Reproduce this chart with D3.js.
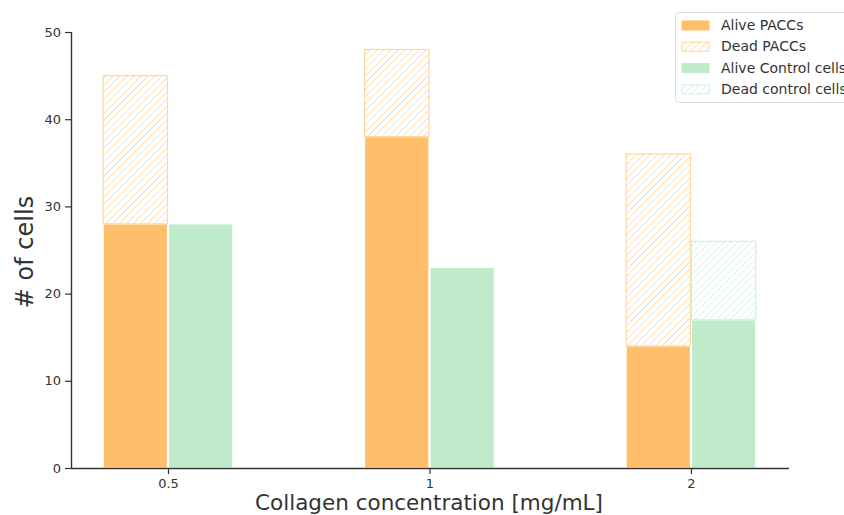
<!DOCTYPE html>
<html>
<head>
<meta charset="utf-8">
<script src="https://cdn.jsdelivr.net/npm/d3@7"></script>
<style>
body { margin: 0; background: #fff; overflow: hidden; }
svg { display: block; font-family: "DejaVu Sans", sans-serif; }
</style>
</head>
<body>
<svg width="844" height="515"></svg>
<script>
var concentrations = ["0.5", "1", "2"];
var alivePACC = [28, 38, 14];
var deadPACC = [17, 10, 22];
var aliveControl = [28, 23, 17];
var deadControl = [0, 0, 9];
var yTicks = [0, 10, 20, 30, 40, 50];
var legendLabels = ["Alive PACCs", "Dead PACCs", "Alive Control cells", "Dead control cells"];

var orange = "#ffbe69", green = "#c0ebca";
var orangeHatch = "#ffd6a3", greenHatch = "#d2f1d9";

var svg = d3.select("svg");
var mLeft = 71, mRight = 789, mTop = 32, mBottom = 468;

var x = d3.scaleLinear().domain([-0.371, 2.375]).range([mLeft, mRight]);
var y = d3.scaleLinear().domain([0, 50]).range([mBottom, mTop]);
var bw = 0.25;

var defs = svg.append("defs");
function hatch(id, color) {
	var p = defs.append("pattern")
		.attr("id", id)
		.attr("patternUnits", "userSpaceOnUse")
		.attr("width", 7).attr("height", 7);
	p.append("path")
		.attr("d", "M-1,8 L8,-1 M-1,1 L1,-1 M6,8 L8,6")
		.attr("stroke", color).attr("stroke-width", 1);
}
hatch("hatch-o", orangeHatch);
hatch("hatch-g", greenHatch);

var series = [
	{ vals: alivePACC, base: null, off: -bw, fill: orange, stroke: "#fff" },
	{ vals: aliveControl, base: null, off: 0, fill: green, stroke: "#fff" },
	{ vals: deadPACC, base: alivePACC, off: -bw, fill: "url(#hatch-o)", stroke: orangeHatch },
	{ vals: deadControl, base: aliveControl, off: 0, fill: "url(#hatch-g)", stroke: greenHatch }
];

series.forEach(function(s) {
	var data = s.vals.map(function(v, i) { return { i: i, v: v, b: s.base ? s.base[i] : 0 }; })
		.filter(function(d) { return d.v > 0; });
	svg.append("g").selectAll("rect")
		.data(data)
		.enter().append("rect")
		.attr("x", function(d) { return x(d.i + s.off) + 0.5; })
		.attr("width", function(d) { return x(d.i + s.off + bw) - x(d.i + s.off) - 1; })
		.attr("y", function(d) { return y(d.b + d.v); })
		.attr("height", function(d) { return y(d.b) - y(d.b + d.v); })
		.attr("fill", s.fill)
		.attr("stroke", s.stroke)
		.attr("stroke-width", 1.2);
});

var yAxis = svg.append("g")
	.attr("transform", "translate(" + mLeft + ",0)")
	.call(d3.axisLeft(y).tickValues(yTicks).tickSize(6).tickPadding(4));
var xAxis = svg.append("g")
	.attr("transform", "translate(0," + mBottom + ")")
	.call(d3.axisBottom(x).tickValues([0, 1, 2]).tickFormat(function(d) { return concentrations[d]; }).tickSize(6).tickPadding(5));
[yAxis, xAxis].forEach(function(a) {
	a.select(".domain").attr("stroke", "#333").attr("stroke-width", 1.4);
	a.selectAll(".tick line").attr("stroke", "#333").attr("stroke-width", 1.2);
	a.selectAll(".tick text").attr("fill", "#333").attr("font-size", 13).attr("font-family", "DejaVu Sans");
});
yAxis.select(".domain").attr("d", "M0.5," + mTop + "V" + mBottom);
xAxis.select(".domain").attr("d", "M" + mLeft + ",0.5H" + mRight);

svg.append("text")
	.attr("transform", "translate(33," + ((mTop + mBottom) / 2 + 2) + ") rotate(-90)")
	.attr("text-anchor", "middle")
	.attr("font-size", 24).attr("fill", "#333")
	.text("# of cells");
svg.append("text")
	.attr("x", (mLeft + mRight) / 2 - 1).attr("y", 510)
	.attr("text-anchor", "middle")
	.attr("font-size", 21.5).attr("fill", "#333")
	.text("Collagen concentration [mg/mL]");

var legend = svg.append("g").attr("transform", "translate(675,12)");
legend.append("rect")
	.attr("x", 0.5).attr("y", 0.5).attr("width", 220).attr("height", 90).attr("rx", 3)
	.attr("fill", "#fff").attr("fill-opacity", 0.8).attr("stroke", "#ddd");
var legFill = [orange, "url(#hatch-o)", green, "url(#hatch-g)"];
var legStroke = [orange, orangeHatch, green, greenHatch];
legend.selectAll("g.item")
	.data(legendLabels)
	.enter().append("g")
	.attr("class", "item")
	.attr("transform", function(d, i) { return "translate(0," + (13 + i * 21.3) + ")"; })
	.each(function(d, i) {
		var g = d3.select(this);
		g.append("rect").attr("x", 7).attr("y", -4).attr("width", 27).attr("height", 9)
			.attr("fill", legFill[i]).attr("stroke", legStroke[i]);
		g.append("text").attr("x", 46).attr("y", 5).attr("font-size", 14).attr("fill", "#333").text(d);
	});
</script>
</body>
</html>
